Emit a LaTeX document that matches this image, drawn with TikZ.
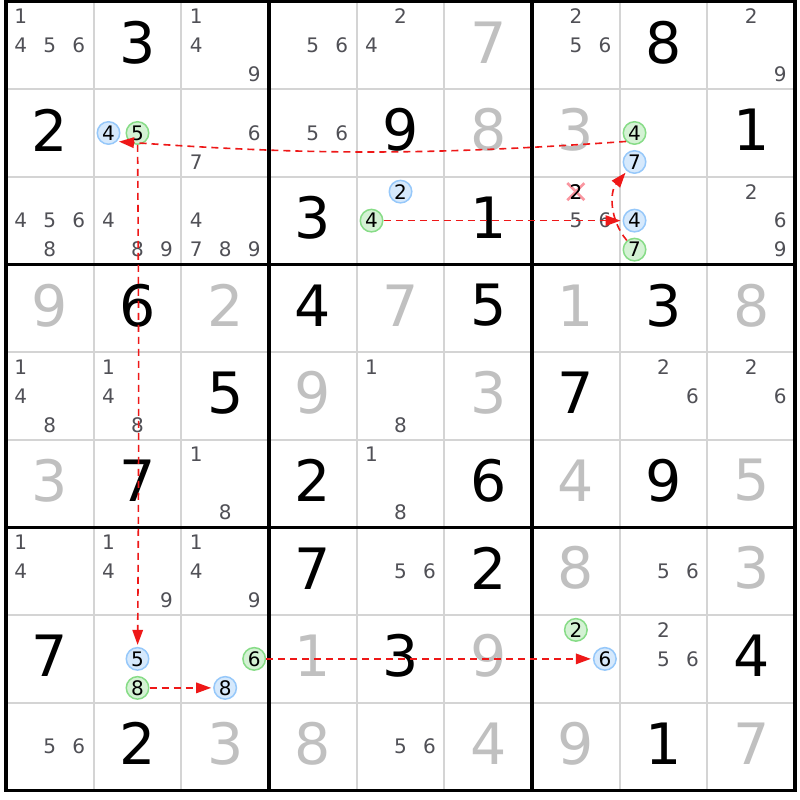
\documentclass[tikz,border=0pt]{standalone}
\usepackage{fontspec}
\setmainfont{DejaVu Sans}
\usetikzlibrary{arrows.meta}
\definecolor{solvedc}{RGB}{192,192,192}
\definecolor{candc}{RGB}{80,80,86}
\definecolor{thinc}{RGB}{212,212,212}
\definecolor{bluefill}{RGB}{214,233,252}
\definecolor{blueline}{RGB}{150,200,250}
\definecolor{greenfill}{RGB}{212,242,212}
\definecolor{greenline}{RGB}{135,220,135}
\definecolor{arrowc}{RGB}{238,24,24}
\definecolor{crossc}{RGB}{250,150,160}
\tikzset{
  given/.style={font=\fontsize{57}{57}\selectfont, text=black, inner sep=0pt},
  solved/.style={given, text=solvedc},
  cand/.style={font=\fontsize{20}{20}\selectfont, text=candc, inner sep=0pt},
  bluec/.style={circle, draw=blueline, fill=bluefill, line width=1.5pt, minimum size=22.5pt, inner sep=0pt, font=\fontsize{20}{20}\selectfont, text=black},
  greenc/.style={bluec, draw=greenline, fill=greenfill},
  link/.style={draw=arrowc, line width=1.6pt, dash pattern=on 7pt off 5pt, -{Triangle[length=15pt,width=10.5pt]}, shorten >=2pt},
  gridthin/.style={draw=thinc, line width=2pt},
  gridthick/.style={draw=black, line width=3.2pt},
  xmark/.style={draw=crossc, line width=2.8pt},
}
\newcommand\Giv[4][given]{\node[#1] (d#2#3) at ({6+(#3-0.5)*87.67},{1.5+(#2-0.5)*87.65-3}) {#4};}
\newcommand\Cand[4][cand]{\node[#1] (c#2#3#4) at ({6+(#3-0.5)*87.67+(mod(#4-1,3)-1)*29},{1.5+(#2-0.5)*87.65+(floor((#4-1)/3)-1)*29}) {#4};}
\newcommand\Cands[3]{\foreach \k in {#3}{\Cand{#1}{#2}{\k}}}
\begin{document}
\begin{tikzpicture}[x=1pt,y=-1pt]
\useasboundingbox (0,0) rectangle (800,800);
\fill[white] (0,0) rectangle (800,800);
% grid
\foreach \i in {1,2,4,5,7,8}{
  \draw[gridthin] ({6+\i*87.67},1.5) -- ({6+\i*87.67},790.3);
  \draw[gridthin] (6,{1.5+\i*87.65}) -- (795,{1.5+\i*87.65});
}
\foreach \i in {0,3,6,9}{
  \draw[gridthick] ({6+\i*87.67},1.5) -- ({6+\i*87.67},790.3);
  \draw[gridthick] (6,{1.5+\i*87.65}) -- (795,{1.5+\i*87.65});
}
\draw[gridthick] (6,1.5) rectangle (795,790.3);
% row 1
\Cands{1}{1}{1,4,5,6} \Giv{1}{2}{3} \Cands{1}{3}{1,4,9} \Cands{1}{4}{5,6}
\Cands{1}{5}{2,4} \Giv[solved]{1}{6}{7} \Cands{1}{7}{2,5,6} \Giv{1}{8}{8} \Cands{1}{9}{2,9}
% row 2
\Giv{2}{1}{2} \Cand[bluec]{2}{2}{4} \Cand[greenc]{2}{2}{5} \Cands{2}{3}{6,7} \Cands{2}{4}{5,6}
\Giv{2}{5}{9} \Giv[solved]{2}{6}{8} \Giv[solved]{2}{7}{3} \Cand[greenc]{2}{8}{4} \Cand[bluec]{2}{8}{7} \Giv{2}{9}{1}
% row 3
\Cands{3}{1}{4,5,6,8} \Cands{3}{2}{4,8,9} \Cands{3}{3}{4,7,8,9} \Giv{3}{4}{3}
\Cand[bluec]{3}{5}{2} \Cand[greenc]{3}{5}{4} \Giv{3}{6}{1}
\Cands{3}{7}{5,6}
\Cand{3}{7}{2}
\draw[xmark] ([shift={(-8.5,-8.5)}]c372.center) -- ([shift={(8.5,8.5)}]c372.center);
\draw[xmark] ([shift={(-8.5,8.5)}]c372.center) -- ([shift={(8.5,-8.5)}]c372.center);
\node[cand, text=black] at (c372) {2};
\Cand[bluec]{3}{8}{4} \Cand[greenc]{3}{8}{7} \Cands{3}{9}{2,6,9}
% row 4
\Giv[solved]{4}{1}{9} \Giv{4}{2}{6} \Giv[solved]{4}{3}{2} \Giv{4}{4}{4} \Giv[solved]{4}{5}{7}
\Giv{4}{6}{5} \Giv[solved]{4}{7}{1} \Giv{4}{8}{3} \Giv[solved]{4}{9}{8}
% row 5
\Cands{5}{1}{1,4,8} \Cands{5}{2}{1,4,8} \Giv{5}{3}{5} \Giv[solved]{5}{4}{9} \Cands{5}{5}{1,8}
\Giv[solved]{5}{6}{3} \Giv{5}{7}{7} \Cands{5}{8}{2,6} \Cands{5}{9}{2,6}
% row 6
\Giv[solved]{6}{1}{3} \Giv{6}{2}{7} \Cands{6}{3}{1,8} \Giv{6}{4}{2} \Cands{6}{5}{1,8}
\Giv{6}{6}{6} \Giv[solved]{6}{7}{4} \Giv{6}{8}{9} \Giv[solved]{6}{9}{5}
% row 7
\Cands{7}{1}{1,4} \Cands{7}{2}{1,4,9} \Cands{7}{3}{1,4,9} \Giv{7}{4}{7} \Cands{7}{5}{5,6}
\Giv{7}{6}{2} \Giv[solved]{7}{7}{8} \Cands{7}{8}{5,6} \Giv[solved]{7}{9}{3}
% row 8
\Giv{8}{1}{7} \Cand[bluec]{8}{2}{5} \Cand[greenc]{8}{2}{8} \Cand[greenc]{8}{3}{6} \Cand[bluec]{8}{3}{8}
\Giv[solved]{8}{4}{1} \Giv{8}{5}{3} \Giv[solved]{8}{6}{9} \Cand[greenc]{8}{7}{2} \Cand[bluec]{8}{7}{6}
\Cands{8}{8}{2,5,6} \Giv{8}{9}{4}
% row 9
\Cands{9}{1}{5,6} \Giv{9}{2}{2} \Giv[solved]{9}{3}{3} \Giv[solved]{9}{4}{8} \Cands{9}{5}{5,6}
\Giv[solved]{9}{6}{4} \Giv[solved]{9}{7}{9} \Giv{9}{8}{1} \Giv[solved]{9}{9}{7}
% links
\draw[link] (c354) -- (c384);
\draw[link] (c387) to[bend left=40] (c287);
\draw[link] (c284.225) to[bend left=4] (c224.-45);
\draw[link] (c225) to[bend left=0.4] (c825);
\draw[link] (c828) -- (c838);
\draw[link] (c836) -- (c876);
\end{tikzpicture}
\end{document}
